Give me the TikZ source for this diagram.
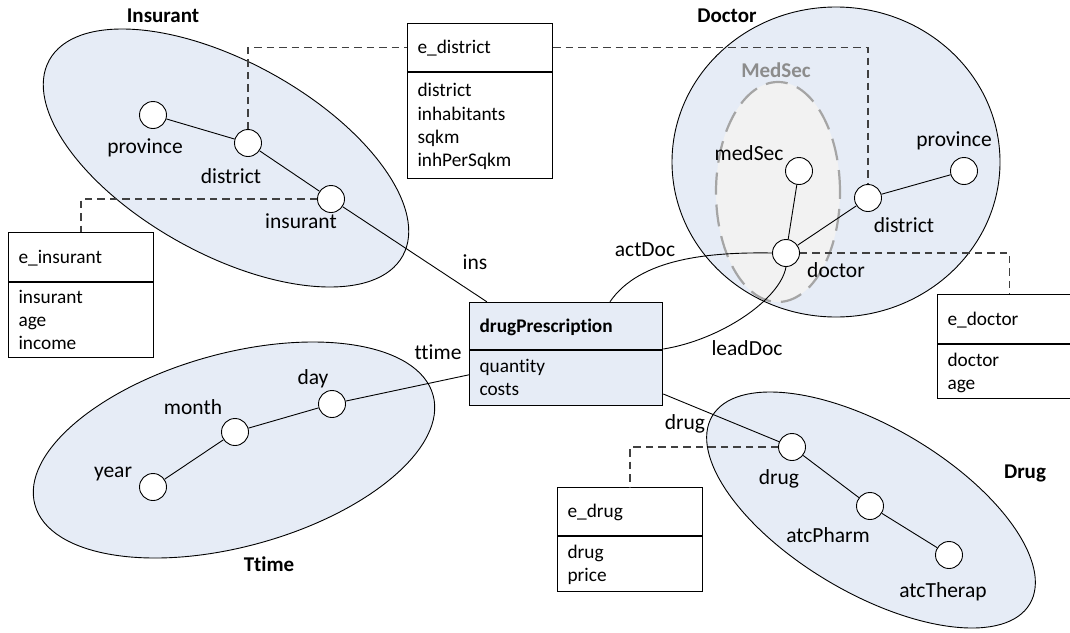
\documentclass[tikz,border=0pt]{standalone}
\usepackage{fontspec}
\setmainfont{Carlito}[Ligatures=NoCommon]
\usetikzlibrary{shapes.geometric,fit}

\definecolor{dimfill}{RGB}{230,236,246}
\definecolor{medfill}{RGB}{242,242,242}
\definecolor{medline}{RGB}{165,165,165}
\definecolor{notegray}{RGB}{64,64,64}
\definecolor{medtext}{RGB}{140,140,140}

\newcommand\boxfont{\fontsize{19.3}{23.3}\selectfont}
\newcommand\labfont{\fontsize{21.5}{26}\selectfont}
\newcommand\grpfont{\fontsize{21}{26}\selectfont\bfseries}

\tikzset{
  dim/.style={ellipse, draw=black, fill=dimfill, line width=0.9, inner sep=0},
  lvl/.style={circle, draw=black, fill=white, minimum size=27, inner sep=0, line width=0.9},
  lab/.style={font=\labfont, inner sep=0, text height=13.5pt, text depth=0pt},
  grp/.style={font=\grpfont, inner sep=0, text height=13.5pt, text depth=0pt},
  link/.style={draw=black, line width=0.9},
  note/.style={draw=notegray, dash pattern=on 7.5 off 5, line width=1.3},
  hdr/.style={draw=black, line width=1.1, anchor=north west, inner xsep=10, inner ysep=0,
    align=left, font=\boxfont, text height=12.3pt, text depth=0pt},
  body/.style={draw=black, line width=1.1, anchor=north, inner xsep=10, inner ysep=0,
    align=left, font=\boxfont, text height=12.3pt},
}

\begin{document}
\begin{tikzpicture}[x=1pt, y=-1pt]
\useasboundingbox (0,0) rectangle (1070,632);
\clip (0,0) rectangle (1070,632);

% dimension ellipses
\node[dim, minimum width=404, minimum height=192, rotate=-29] (gIns) at (226,158) {};
\node[dim, minimum width=413, minimum height=193, rotate=15.4] (gTime) at (234,450) {};
\node[dim, minimum width=369, minimum height=166, rotate=-30.6] (gDrug) at (871,510) {};
\node[dim, minimum width=328, minimum height=310] (gDoc) at (836,162) {};
\node[ellipse, draw=medline, fill=medfill, dash pattern=on 22 off 10, line width=2.2,
  minimum width=124, minimum height=220, inner sep=0] (gMed) at (778,192) {};

% dimension names
\node[grp] (tIns) at (163,16) {Insurant};
\node[grp] (tDoc) at (727,16) {Doctor};
\node[grp, text=medtext] (tMed) at (776,71) {MedSec};
\node[grp] (tTime) at (269,565) {Ttime};
\node[grp] (tDrug) at (1025,472) {Drug};

% levels
\node[lvl] (iProv) at (153,115) {};
\node[lvl] (iDist) at (248,143) {};
\node[lvl] (iIns) at (331,199) {};
\node[lvl] (dMed) at (799,171) {};
\node[lvl] (dDoc) at (786,253) {};
\node[lvl] (dDist) at (868,198) {};
\node[lvl] (dProv) at (964,171) {};
\node[lvl] (tYear) at (153,487) {};
\node[lvl] (tMonth) at (235,432) {};
\node[lvl] (tDay) at (332,404) {};
\node[lvl] (rDrug) at (792,447) {};
\node[lvl] (rPharm) at (870,506) {};
\node[lvl] (rTherap) at (949,555) {};

% level names
\node[lab] (lIProv) at (145,147) {province};
\node[lab] (lIDist) at (231,177) {district};
\node[lab] (lIIns) at (301,222) {insurant};
\node[lab] (lDMed) at (749,154) {medSec};
\node[lab] (lDProv) at (954,140) {province};
\node[lab] (lDDist) at (904,226) {district};
\node[lab] (lDDoc) at (836,271) {doctor};
\node[lab] (lTYear) at (113,471) {year};
\node[lab] (lTMonth) at (193,408) {month};
\node[lab] (lTDay) at (313,378) {day};
\node[lab] (lRDrug) at (779,478) {drug};
\node[lab] (lRPharm) at (828,536) {atcPharm};
\node[lab] (lRTherap) at (943,591) {atcTherap};

% fact
\node[hdr, fill=dimfill, text width=173, minimum height=47, font=\boxfont\bfseries] (dpH) at (469,302) {drugPrescription};
\node[body, fill=dimfill, text width=173, minimum height=55, text depth=23.3pt] (dpB) at (dpH.south) {quantity\\costs};
\node[fit=(dpH)(dpB), inner sep=0] (dp) {};

% level tables
\node[hdr, fill=white, text width=125, minimum height=48] (eDistH) at (407,23) {e\_district};
\node[body, fill=white, text width=125, minimum height=106, text depth=69.9pt] (eDistB) at (eDistH.south) {district\\inhabitants\\sqkm\\inhPerSqkm};

\node[hdr, fill=white, text width=125, minimum height=49] (eInsH) at (8,232) {e\_insurant};
\node[body, fill=white, text width=125, minimum height=75, text depth=46.6pt] (eInsB) at (eInsH.south) {insurant\\age\\income};

\node[hdr, fill=white, text width=124, minimum height=49] (eDocH) at (937,294) {e\_doctor};
\node[body, fill=white, text width=124, minimum height=54, text depth=23.3pt] (eDocB) at (eDocH.south) {doctor\\age};

\node[hdr, fill=white, text width=125, minimum height=48] (eDrugH) at (557,487) {e\_drug};
\node[body, fill=white, text width=125, minimum height=55, text depth=23.3pt] (eDrugB) at (eDrugH.south) {drug\\price};

% roll-up edges
\draw[link] (iProv) -- (iDist);
\draw[link] (iDist) -- (iIns);
\draw[link] (dMed) -- (dDoc);
\draw[link] (dDoc) -- (dDist);
\draw[link] (dDist) -- (dProv);
\draw[link] (tYear) -- (tMonth);
\draw[link] (tMonth) -- (tDay);
\draw[link] (rDrug) -- (rPharm);
\draw[link] (rPharm) -- (rTherap);

% fact to dimension edges
\draw[link] (iIns) -- (dp);
\draw[link] (tDay) -- (dp);
\draw[link] (dp) -- (rDrug);
\draw[link] (dp.50) .. controls (640,258) and (710,252) .. (dDoc.west);
\draw[link] (dp.3) .. controls (720,340) and (780,300) .. (dDoc.south);

% role names
\node[lab] (rIns) at (475,263) {ins};
\node[lab] (rTime) at (438,353) {ttime};
\node[lab] (rAct) at (645,250) {actDoc};
\node[lab] (rLead) at (747,349) {leadDoc};
\node[lab] (rDrugRole) at (685,423) {drug};

% level table attachments
\draw[note] (iDist.north) |- (eDistH.west);
\draw[note] (eDistH.east) -| (dDist.north);
\draw[note] (iIns.west) -| (eInsH.north);
\draw[note] (dDoc.east) -| (eDocH.north);
\draw[note] (rDrug.west) -| (eDrugH.north);
\end{tikzpicture}
\end{document}
